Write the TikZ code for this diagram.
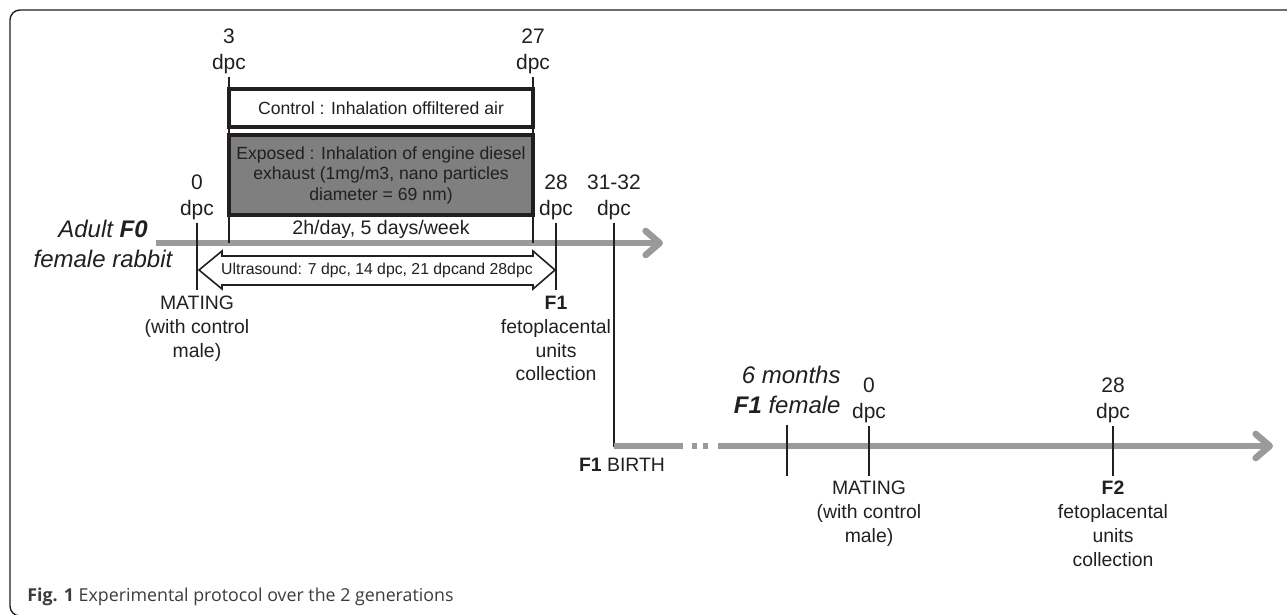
\documentclass[tikz,border=0pt]{standalone}
\usepackage{fontspec}
\setmainfont{Liberation Sans}
\newfontfamily\capfont{Open Sans}
\usepackage{tikz}
\usetikzlibrary{arrows.meta,positioning}
\definecolor{ink}{HTML}{231F20}
\definecolor{lineGray}{HTML}{9A9A9A}
\definecolor{boxGray}{HTML}{7F7F7F}
\definecolor{capGray}{HTML}{3C3C3C}

\begin{document}
\begin{tikzpicture}[x=0.5pt, y=-0.5pt,
  every node/.style={text=ink, inner sep=1pt},
  dpc/.style={font=\fontsize{10.5}{13}\selectfont, align=center},
  note/.style={font=\fontsize{9.7}{11.85}\selectfont, align=center},
  gen/.style={font=\fontsize{12}{14.75}\selectfont\itshape},
  inbox/.style={font=\fontsize{8.8}{10.25}\selectfont, align=center},
  period/.style={draw=ink, line width=1.6pt, minimum width=152pt},
  tick/.style={draw=ink, line width=1pt},
  timeline/.style={draw=lineGray, line width=3.3pt},
  arrowhd/.style={-{Straight Barb[length=7pt,width=12pt,round]}},
  usarrow/.style={draw=ink, fill=white, line width=0.8pt},
  frame/.style={draw=ink, line width=0.7pt, rounded corners=5pt}]
\useasboundingbox (0,0) rectangle (1287,615);
\draw[frame] (1320,616) -- (10,616) -- (10,10) -- (1320,10);
%F0 generation
\coordinate (a0) at (156,243);
\coordinate (a1) at (663,243);
\draw[timeline, arrowhd] (a0) -- (a1);
\node[period, minimum height=19pt] (ctrl) at (381,108) {};
\node[inbox] at (ctrl) {Control : Inhalation offiltered air};
\node[period, fill=boxGray, minimum height=40pt] (expo) at (381,175) {};
\node[inbox] at (expo) {Exposed : Inhalation of engine diesel\\exhaust (1mg/m3, nano particles\\diameter = 69 nm)};
\node[font=\fontsize{9.8}{12}\selectfont] (rate) at (381,229) {2h/day, 5 days/week};
\foreach \x/\y/\t/\b/\n in {229/76/3/243/s3, 533/76/27/243/s27, 197/222/0/290/s0, 556/222/28/290/s28}{
  \node[dpc, above] (\n) at (\x,\y) {\t\\dpc};
  \draw[tick] (\n.south) ++(0,1) -- (\x,\b);
}
\node[dpc, above] (s31) at (614,222) {31-32\\dpc};
\draw[usarrow] (199,270) -- (222,251) -- (222,256) -- (533,256) -- (533,251) -- (555,270)
  -- (533,289) -- (533,285) -- (222,285) -- (222,289) -- cycle;
\node[font=\fontsize{7.9}{9}\selectfont] (us) at (377,270) {Ultrasound: 7 dpc, 14 dpc, 21 dpcand 28dpc};
\node[note, below=1pt of s0.south, yshift=-35pt] (mate1) {MATING\\(with control\\male)};
\node[note, below=1pt of s28.south, yshift=-35pt] (coll1) {\textbf{F1}\\fetoplacental\\units\\collection};
\node[gen, align=center] (f0) at (103,244) {Adult \textbf{F0}\\female rabbit};
%F1 generation
\coordinate (b0) at (614,446);
\coordinate (b1) at (683,446);
\coordinate (b2) at (718,446);
\coordinate (b3) at (1273,446);
\draw[tick] (s31.south) ++(0,1) -- (614,447);
\draw[timeline] (b0) -- (b1);
\foreach \x in {692,703} \draw[timeline] (\x,446) -- ++(5,0);
\draw[timeline, arrowhd] (b2) -- (b3);
\node[note] (birth) at (622,465) {\textbf{F1} BIRTH};
\node[gen, align=right, anchor=east] (f1) at (843,390) {6 months\\\textbf{F1} female};
\draw[tick] (787,425) -- (787,476);
\node[dpc, above] (t0) at (869,425) {0\\dpc};
\node[dpc, above] (t28) at (1113,425) {28\\dpc};
\draw[tick] (t0.south) ++(0,1) -- (869,476);
\draw[tick] (t28.south) ++(0,1) -- (1113,476);
\node[note, below=2pt of t0.south, yshift=-25pt] (mate2) {MATING\\(with control\\male)};
\node[note, below=2pt of t28.south, yshift=-25pt] (coll2) {\textbf{F2}\\fetoplacental\\units\\collection};
\node[anchor=west, text=capGray, font=\capfont\fontsize{8.9}{11}\selectfont] (cap) at (25,597) {\textbf{Fig. 1} Experimental protocol over the 2 generations};
\end{tikzpicture}
\end{document}
